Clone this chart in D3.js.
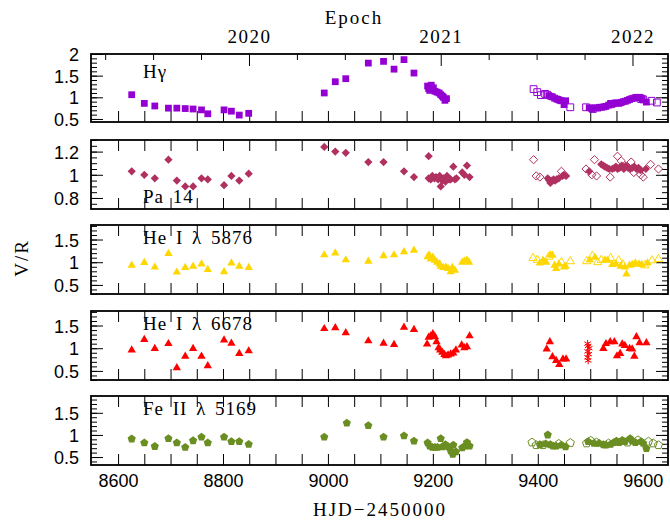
<!DOCTYPE html>
<html>
<head>
<meta charset="utf-8">
<script src="https://cdn.jsdelivr.net/npm/d3@7"></script>
<style>
  body { margin: 0; background: #fff; }
  svg { display: block; }
</style>
</head>
<body>
<script>
// ---- data : [HJD-2450000, V/R] ----
const hgFilled = [[8626,1.06],[8650,0.86],[8670,0.80],[8696,0.75],[8712,0.75],[8728,0.74],[8743,0.73],[8759,0.71],[8771,0.62],[8802,0.71],[8816,0.68],[8831,0.59],[8849,0.63],
  [8993,1.10],[9014,1.36],[9034,1.43],[9077,1.79],[9106,1.83],[9126,1.65],[9145,1.87],[9164,1.56],
  [9190,1.26],[9192,1.20],[9194,1.16],[9197,1.28],[9199,1.18],[9201,1.22],[9204,1.14],[9208,1.12],[9212,1.10],[9215,1.06],[9218,1.03],[9220,1.00],[9223,0.93],[9226,0.97],
  [9421,1.04],[9425,1.02],[9428,1.01],[9432,0.98],[9436,0.96],[9439,0.95],[9442,0.93],[9445,0.92],[9450,0.83],[9453,0.92],
  [9498,0.76],[9503,0.74],[9510,0.76],[9514,0.75],[9518,0.77],[9522,0.77],[9526,0.78],[9530,0.79],[9535,0.82],[9539,0.86],[9543,0.85],[9547,0.87],[9551,0.87],[9555,0.86],[9559,0.88],[9563,0.90],[9567,0.91],[9571,0.93],[9575,0.95],[9579,0.97],[9583,0.98],[9587,1.00],[9591,0.99],[9595,1.00],[9599,0.97],[9607,0.89]];
const hgOpen = [[9392,1.19],[9399,1.12],[9406,1.05],[9414,1.08],[9418,1.06],[9462,0.77],[9492,0.77],[9505,0.73],[9540,0.84],[9597,0.96],[9601,0.95],[9617,0.92],[9627,0.88]];

const paFilled = [[8626,1.03],[8650,1.00],[8670,0.97],[8696,1.13],[8712,0.95],[8728,0.90],[8743,0.90],[8759,0.97],[8771,0.96],[8802,0.91],[8816,0.99],[8831,0.95],[8849,1.01],
  [8993,1.24],[9014,1.20],[9034,1.19],[9077,1.11],[9106,1.11],[9145,1.03],[9164,0.98],[9192,1.16],
  [9192,0.97],[9196,0.96],[9199,0.99],[9203,0.97],[9206,0.98],[9210,0.96],[9213,0.99],[9215,0.90],[9218,0.95],[9220,0.97],[9224,0.94],[9227,0.99],[9231,0.96],[9234,0.96],[9239,1.07],[9242,0.96],[9245,0.97],[9256,1.02],[9260,1.00],[9265,1.08],[9270,0.98],
  [9419,0.97],[9422,0.95],[9424,0.93],[9427,0.95],[9430,0.96],[9433,0.95],[9436,0.96],[9440,0.97],[9447,0.99],[9450,1.00],[9454,0.99],
  [9498,1.03],[9521,1.09],[9525,1.08],[9528,1.07],[9532,1.06],[9536,1.05],[9542,1.05],[9546,1.06],[9549,1.07],[9552,1.05],[9556,1.06],[9560,1.08],[9564,1.05],[9568,1.08],[9572,1.06],[9576,1.05],[9580,1.06],[9584,1.07],[9588,1.05],[9592,1.06],[9596,1.04],[9606,1.05]];
const paOpen = [[9392,1.13],[9397,0.99],[9404,0.98],[9445,1.03],[9492,1.05],[9503,1.00],[9508,1.13],[9512,0.99],[9538,0.98],[9552,1.16],[9559,1.12],[9578,1.11],[9583,1.02],[9596,1.00],[9601,0.98],[9615,1.09],[9630,1.05]];

const he58Filled = [[8626,0.93],[8650,0.99],[8670,0.89],[8696,1.19],[8712,0.78],[8728,0.88],[8743,0.91],[8759,0.96],[8771,0.84],[8802,0.79],[8816,0.98],[8831,0.91],[8849,0.88],
  [8993,1.16],[9014,1.20],[9034,1.05],[9077,1.02],[9106,1.14],[9126,1.16],[9145,1.23],[9164,1.26],
  [9190,1.12],[9193,1.16],[9196,1.07],[9200,1.11],[9204,1.04],[9208,1.00],[9213,0.96],[9215,0.91],[9220,0.88],[9225,0.89],[9229,0.86],[9234,0.79],[9237,0.88],[9242,0.82],[9256,1.00],[9260,1.02],[9265,1.05],[9269,1.00],
  [9404,0.98],[9410,1.04],[9416,1.00],[9424,1.16],[9428,1.15],[9432,0.93],[9435,0.86],[9440,0.96],[9450,0.89],[9453,0.91],
  [9499,1.05],[9509,1.11],[9528,1.05],[9533,1.04],[9542,0.95],[9549,0.96],[9558,0.91],[9566,0.89],[9569,0.74],[9575,0.93],[9580,0.95],[9586,0.98],[9593,0.96],[9598,0.95],[9609,0.98]];
const he58Open = [[9391,1.09],[9399,1.05],[9421,1.12],[9445,1.00],[9462,1.02],[9493,1.02],[9504,1.14],[9514,1.00],[9521,1.05],[9539,1.09],[9554,1.04],[9562,0.95],[9604,0.93],[9618,1.04],[9630,1.07]];

const he66Filled = [[8626,0.96],[8650,1.19],[8670,0.99],[8696,1.10],[8712,0.57],[8728,0.82],[8743,0.99],[8759,0.82],[8771,0.61],[8802,1.18],[8816,1.11],[8831,0.88],[8849,0.94],
  [8993,1.43],[9014,1.45],[9034,1.34],[9077,1.16],[9106,1.11],[9126,1.08],[9145,1.46],[9164,1.41],
  [9189,1.09],[9192,1.24],[9196,1.27],[9200,1.32],[9204,1.25],[9207,1.14],[9211,1.01],[9214,0.96],[9218,0.91],[9222,0.86],[9225,0.83],[9229,0.85],[9234,0.87],[9239,0.89],[9244,0.96],[9255,1.07],[9260,1.01],[9265,1.03],[9270,1.27],
  [9417,0.98],[9423,1.14],[9428,0.81],[9435,0.73],[9441,0.64],[9448,0.76],[9454,0.76],
  [9525,0.99],[9530,1.10],[9538,1.14],[9546,1.14],[9551,0.83],[9557,0.88],[9561,1.09],[9566,1.06],[9575,0.99],[9580,0.98],[9584,0.82],[9588,1.25],[9594,1.12],[9607,1.12]];
const he66Star = [[9495,1.10],[9496,1.05],[9498,1.00],[9495,0.93],[9497,0.87],[9495,0.80],[9496,0.73]];

const feFilled = [[8626,0.91],[8650,0.82],[8670,0.74],[8696,0.92],[8712,0.82],[8728,0.72],[8743,0.87],[8759,0.95],[8771,0.82],[8802,0.95],[8816,0.85],[8831,0.85],[8849,0.79],
  [8993,0.95],[9036,1.27],[9077,1.21],[9106,0.95],[9145,0.98],[9164,0.86],
  [9190,0.82],[9194,0.75],[9199,0.72],[9204,0.72],[9209,0.72],[9215,0.92],[9218,0.73],[9224,0.78],[9229,0.73],[9234,0.64],[9238,0.56],[9239,0.77],[9244,0.62],[9256,0.71],[9261,0.75],[9265,0.83],[9270,0.75],
  [9404,0.78],[9415,0.80],[9419,1.00],[9424,0.78],[9429,0.75],[9435,0.75],[9445,0.77],[9453,0.73],
  [9496,0.85],[9507,0.81],[9517,0.81],[9525,0.78],[9530,0.77],[9539,0.79],[9545,0.83],[9550,0.86],[9555,0.83],[9561,0.88],[9566,0.85],[9576,0.92],[9580,0.86],[9586,0.83],[9597,0.85],[9601,0.81],[9607,0.69]];
const feOpen = [[9389,0.83],[9397,0.77],[9410,0.77],[9440,0.80],[9462,0.82],[9493,0.81],[9501,0.87],[9512,0.83],[9535,0.81],[9571,0.83],[9591,0.88],[9611,0.85],[9620,0.81],[9630,0.77]];

// tick labels
const hjdLabels = [8600, 8800, 9000, 9200, 9400, 9600];
const epochYears = [2020, 2021, 2022];
const hgTicks = [0.5, 1, 1.5, 2];
const paTicks = [0.8, 1, 1.2];
const heTicks = [0.5, 1, 1.5];

// ---- layout ----
const w = 670, h = 523;
const xL = 91, xR = 668;
const numFont = 'Liberation Sans, Arial, sans-serif';
const serif = 'Liberation Serif, Times New Roman, serif';

const x = d3.scaleLinear().domain([8548.4, 9648.2]).range([xL, xR]);

// custom marker shapes
const symDiamond = {
  draw(ctx, size) {
    const r = Math.sqrt(size / 2);
    ctx.moveTo(0, -r); ctx.lineTo(r, 0); ctx.lineTo(0, r); ctx.lineTo(-r, 0); ctx.closePath();
  }
};
const symPentagon = {
  draw(ctx, size) {
    const r = Math.sqrt(size / 2.378);
    for (let i = 0; i < 5; i++) {
      const a = -Math.PI / 2 + i * 2 * Math.PI / 5;
      if (i === 0) ctx.moveTo(r * Math.cos(a), r * Math.sin(a));
      else ctx.lineTo(r * Math.cos(a), r * Math.sin(a));
    }
    ctx.closePath();
  }
};

const panels = [
  { label: 'Hγ', top: 54, bottom: 122, dom: [0.43, 2.0], ticks: hgTicks, minor: 0.1, labelY: 78,
    color: '#9400d3', sym: d3.symbolSquare, size: 46, filled: hgFilled, open: hgOpen },
  { label: 'Pa 14', top: 140, bottom: 209, dom: [0.705, 1.3], ticks: paTicks, minor: 0.05, labelY: 203,
    color: '#b03060', sym: symDiamond, size: 34, filled: paFilled, open: paOpen },
  { label: 'He I λ 5876', top: 225, bottom: 294, dom: [0.3, 1.82], ticks: heTicks, minor: 0.1, labelY: 244,
    color: '#ffd700', sym: d3.symbolTriangle, size: 30, filled: he58Filled, open: he58Open },
  { label: 'He I λ 6678', top: 311, bottom: 380, dom: [0.3, 1.82], ticks: heTicks, minor: 0.1, labelY: 330,
    color: '#ff0000', sym: d3.symbolTriangle, size: 30, filled: he66Filled, open: [], star: he66Star },
  { label: 'Fe II λ 5169', top: 396, bottom: 465, dom: [0.32, 1.88], ticks: heTicks, minor: 0.1, labelY: 415,
    color: '#6b8e23', sym: symPentagon, size: 44, filled: feFilled, open: feOpen }
];

const svg = d3.select('body').append('svg')
  .attr('width', w)
  .attr('height', h);

const hjdTicks = d3.range(8600, 9601, 50);

panels.forEach((p, i) => {
  const y = d3.scaleLinear().domain(p.dom).range([p.bottom, p.top]);
  const g = svg.append('g');
  const minorTicks = d3.range(Math.ceil(p.dom[0] / p.minor) * p.minor, p.dom[1] + 1e-9, p.minor)
    .map((v) => +v.toFixed(3));

  // bottom ticks (labels on the last panel only)
  const last = i === panels.length - 1;
  g.append('g')
    .attr('transform', `translate(0,${p.bottom})`)
    .call(d3.axisBottom(x).tickValues(hjdTicks).tickSize(-11).tickPadding(9)
      .tickFormat((d) => (last && hjdLabels.includes(d)) ? d : ''));
  // top ticks (first panel gets the epoch axis instead)
  if (i > 0) {
    g.append('g')
      .attr('transform', `translate(0,${p.top})`)
      .call(d3.axisTop(x).tickValues(hjdTicks).tickSize(-11).tickFormat(''));
  }

  // left axis: minor + major
  g.append('g')
    .attr('transform', `translate(${xL},0)`)
    .call(d3.axisLeft(y).tickValues(minorTicks).tickSize(-6).tickFormat(''));
  g.append('g')
    .attr('transform', `translate(${xL},0)`)
    .attr('class', 'ylab')
    .call(d3.axisLeft(y).tickValues(p.ticks).tickSize(-12).tickPadding(12)
      .tickFormat((d) => d3.format('')(d)));
  // right axis
  g.append('g')
    .attr('transform', `translate(${xR},0)`)
    .call(d3.axisRight(y).tickValues(minorTicks).tickSize(-6).tickFormat(''));
  g.append('g')
    .attr('transform', `translate(${xR},0)`)
    .call(d3.axisRight(y).tickValues(p.ticks).tickSize(-12).tickFormat(''));

  g.selectAll('.domain').remove();
  g.selectAll('.tick line').attr('stroke', '#000').attr('stroke-width', 1);
  g.selectAll('text')
    .attr('font-family', numFont)
    .attr('font-size', 18)
    .attr('fill', '#000');
  g.selectAll('.ylab text').attr('dy', '0.36em');

  // frame
  g.append('rect')
    .attr('x', xL).attr('y', p.top)
    .attr('width', xR - xL).attr('height', p.bottom - p.top)
    .attr('fill', 'none').attr('stroke', '#000').attr('stroke-width', 1.8);

  // markers
  const sym = d3.symbol().type(p.sym).size(p.size);
  g.selectAll('path.filled')
    .data(p.filled)
    .enter()
    .append('path')
    .attr('class', 'filled')
    .attr('transform', (d) => `translate(${x(d[0])},${y(d[1])})`)
    .attr('d', sym)
    .attr('fill', p.color);
  g.selectAll('path.open')
    .data(p.open)
    .enter()
    .append('path')
    .attr('class', 'open')
    .attr('transform', (d) => `translate(${x(d[0])},${y(d[1])})`)
    .attr('d', sym)
    .attr('fill', 'none')
    .attr('stroke', p.color)
    .attr('stroke-width', 1);
  if (p.star) {
    g.selectAll('path.star')
      .data(p.star)
      .enter()
      .append('path')
      .attr('class', 'star')
      .attr('transform', (d) => `translate(${x(d[0])},${y(d[1])})`)
      .attr('d', d3.symbol().type(d3.symbolAsterisk).size(40))
      .attr('fill', 'none')
      .attr('stroke', p.color)
      .attr('stroke-width', 1);
  }

  // line label
  g.append('text')
    .attr('x', 143)
    .attr('y', p.labelY)
    .attr('font-family', serif)
    .attr('font-size', 19)
    .attr('letter-spacing', 1)
    .attr('word-spacing', 3)
    .text(p.label);
});

// epoch axis on top of first panel
const epoch = d3.scaleLinear()
  .domain([2020, 2022])
  .range([x(8849.5), x(9580.5)]);
const quarters = d3.range(2019.25, 2022.26, 0.25)
  .filter((v) => epoch(v) > xL + 2 && epoch(v) < xR - 2 && !epochYears.includes(v));
const eg = svg.append('g').attr('transform', `translate(0,${panels[0].top})`);
eg.append('g').call(d3.axisTop(epoch).tickValues(quarters).tickSize(-6).tickFormat(''));
eg.append('g').call(d3.axisTop(epoch).tickValues(epochYears).tickSize(-12).tickPadding(11)
  .tickFormat(d3.format('d')));
eg.selectAll('.domain').remove();
eg.selectAll('.tick line').attr('stroke', '#000');
eg.selectAll('text')
  .attr('font-family', serif)
  .attr('font-size', 19)
  .attr('letter-spacing', 1.5)
  .attr('fill', '#000');

// axis titles
svg.append('text')
  .attr('x', 354).attr('y', 24)
  .attr('text-anchor', 'middle')
  .attr('font-family', serif).attr('font-size', 19).attr('letter-spacing', 2)
  .text('Epoch');
svg.append('text')
  .attr('x', 380).attr('y', 516)
  .attr('text-anchor', 'middle')
  .attr('font-family', serif).attr('font-size', 19).attr('letter-spacing', 2)
  .text('HJD\u22122450000');
svg.append('text')
  .attr('transform', 'translate(28,258) rotate(-90)')
  .attr('text-anchor', 'middle')
  .attr('font-family', serif).attr('font-size', 19).attr('letter-spacing', 2)
  .text('V/R');
</script>
</body>
</html>
